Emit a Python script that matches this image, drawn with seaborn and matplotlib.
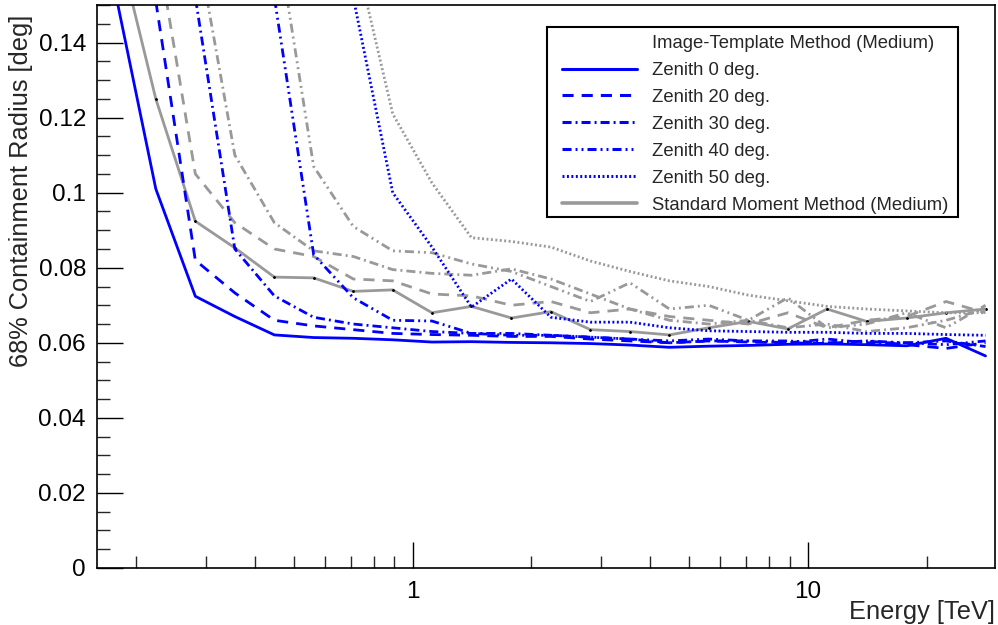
import numpy as np
import pandas as pd
import matplotlib
matplotlib.use("Agg")
import matplotlib.pyplot as plt
import seaborn as sns
from matplotlib.lines import Line2D
from matplotlib.patches import Rectangle
from matplotlib.ticker import MultipleLocator, LogLocator, FuncFormatter, NullFormatter

nan = np.nan

# Energy bin centres [TeV]
energy = [0.178, 0.224, 0.282, 0.355, 0.447, 0.562, 0.708, 0.891, 1.12, 1.41, 1.78,
          2.24, 2.82, 3.55, 4.47, 5.62, 7.08, 8.91, 11.2, 14.1, 17.8, 22.4, 28.2]

# Image-Template method (blue)
it_z0 = [0.152, 0.101, 0.0724, 0.067, 0.0621, 0.0614, 0.0612, 0.0608, 0.0602, 0.0603, 0.0601,
         0.0600, 0.0598, 0.0594, 0.0588, 0.0591, 0.0593, 0.0596, 0.0597, 0.0595, 0.0592, 0.0612, 0.0565]
it_z20 = [nan, 0.151, 0.082, 0.0733, 0.066, 0.0645, 0.0635, 0.0625, 0.0622, 0.0620, 0.0617,
          0.0617, 0.0610, 0.0605, 0.0600, 0.0605, 0.0602, 0.0600, 0.0598, 0.0605, 0.0595, 0.0585, 0.0600]
it_z30 = [nan, nan, 0.152, 0.085, 0.0725, 0.0668, 0.065, 0.064, 0.063, 0.0625, 0.0625,
          0.062, 0.0615, 0.061, 0.060, 0.0605, 0.0605, 0.060, 0.061, 0.060, 0.060, 0.0605, 0.059]
it_z40 = [nan, nan, nan, nan, 0.152, 0.0835, 0.072, 0.066, 0.0658, 0.0625, 0.062,
          0.062, 0.0615, 0.061, 0.0605, 0.061, 0.0605, 0.0605, 0.060, 0.0605, 0.060, 0.0595, 0.0605]
it_z50 = [nan, nan, nan, nan, nan, nan, 0.152, 0.100, 0.0855, 0.0695, 0.077,
          0.0668, 0.0655, 0.0655, 0.064, 0.0632, 0.063, 0.0628, 0.0628, 0.0625, 0.0625, 0.0622, 0.062]

# Standard moment method (gray)
sm_z0 = [0.168, 0.125, 0.0924, 0.0853, 0.0775, 0.0773, 0.0737, 0.0741, 0.068, 0.0697, 0.0666,
         0.0683, 0.0635, 0.063, 0.0621, 0.064, 0.0657, 0.0637, 0.069, 0.0657, 0.0666, 0.068, 0.069]
sm_z20 = [nan, 0.168, 0.105, 0.092, 0.085, 0.083, 0.077, 0.0765, 0.073, 0.0725, 0.070,
          0.071, 0.068, 0.069, 0.067, 0.066, 0.065, 0.068, 0.064, 0.066, 0.067, 0.071, 0.068]
sm_z30 = [nan, nan, 0.169, 0.11, 0.092, 0.0845, 0.083, 0.0795, 0.0785, 0.078, 0.0797,
          0.077, 0.073, 0.069, 0.066, 0.065, 0.066, 0.064, 0.065, 0.063, 0.064, 0.066, 0.069]
sm_z40 = [nan, nan, nan, nan, 0.173, 0.107, 0.091, 0.0845, 0.084, 0.081, 0.079,
          0.075, 0.071, 0.076, 0.069, 0.070, 0.066, 0.072, 0.064, 0.065, 0.068, 0.064, 0.070]
sm_z50 = [nan, nan, nan, nan, nan, nan, 0.166, 0.121, 0.1026, 0.088, 0.087,
          0.0855, 0.0818, 0.079, 0.0765, 0.075, 0.0727, 0.0712, 0.0697, 0.069, 0.0685, 0.068, 0.068]

legend_header = "Image-Template Method (Medium)"
it_labels = ["Zenith 0 deg.", "Zenith 20 deg.", "Zenith 30 deg.", "Zenith 40 deg.", "Zenith 50 deg."]
sm_label = "Standard Moment Method (Medium)"

sns.set_style("white")
plt.rcParams["font.family"] = ["Liberation Sans", "DejaVu Sans"]
plt.rcParams["lines.scale_dashes"] = False

W, H = 998, 625
fig = plt.figure(figsize=(W / 100, H / 100), dpi=100)
ax = fig.add_axes([97 / W, (H - 568) / H, 898 / W, 563 / H])

BLUE = "#0000ff"
GRAY = "#999999"
styles = ["-", (0, (8, 5.8)), (0, (6.5, 2.9, 1.4, 2.9)),
          (0, (6.5, 2.9, 1.4, 2.9, 1.4, 2.9)), (0, (1.4, 1.8))]

# gray (standard moment) first, blue on top
sm_series = [sm_z0, sm_z20, sm_z30, sm_z40, sm_z50]
for i, vals in enumerate(sm_series):
    df = pd.DataFrame({"E": energy, "r": vals}).dropna()
    kw = dict(marker=".", markersize=2.5, markerfacecolor="black", markeredgecolor="black") if i == 0 else {}
    sns.lineplot(data=df, x="E", y="r", ax=ax, color=GRAY, linewidth=2.0,
                 linestyle=styles[i], estimator=None, sort=False, **kw)

it_series = [it_z0, it_z20, it_z30, it_z40, it_z50]
handles = [Line2D([], [], color="none")]
for i, vals in enumerate(it_series):
    df = pd.DataFrame({"E": energy, "r": vals}).dropna()
    sns.lineplot(data=df, x="E", y="r", ax=ax, color=BLUE, linewidth=2.0,
                 linestyle=styles[i], estimator=None, sort=False)
    handles.append(Line2D([], [], color=BLUE, linewidth=2.2, linestyle=styles[i]))
handles.append(Line2D([], [], color=GRAY, linewidth=2.6, linestyle="-"))
labels = [legend_header] + it_labels + [sm_label]

ax.set_xscale("log")
ax.set_xlim(0.159, 29.8)
ax.set_ylim(0, 0.15)

ax.yaxis.set_major_locator(MultipleLocator(0.02))
ax.yaxis.set_minor_locator(MultipleLocator(0.005))
ax.yaxis.set_major_formatter(FuncFormatter(lambda v, p: "%g" % round(v, 4)))
ax.xaxis.set_major_locator(LogLocator(base=10))
ax.xaxis.set_minor_locator(LogLocator(base=10, subs=np.arange(2, 10)))
ax.xaxis.set_major_formatter(FuncFormatter(lambda v, p: "%g" % v))
ax.xaxis.set_minor_formatter(NullFormatter())

ax.tick_params(which="major", direction="in", length=19, width=1.0, labelsize=17.5,
               colors="black", pad=8, top=False, right=False, bottom=True, left=True)
ax.tick_params(which="minor", direction="in", length=9, width=1.0,
               top=False, right=False, bottom=True, left=True)
ax.tick_params(axis="x", which="major", pad=9)
for s in ax.spines.values():
    s.set_visible(True)
    s.set_color("black")
    s.set_linewidth(1.2)

ax.set_xlabel("Energy [TeV]", fontsize=18.3, loc="right")
ax.xaxis.set_label_coords(1.0, -0.057)
ax.set_ylabel("68% Containment Radius [deg]", fontsize=18.3, loc="top")
ax.yaxis.set_label_coords(-0.071, 0.982)

leg = ax.legend(handles, labels, loc="upper left", frameon=False, fontsize=13.3,
                handlelength=4.05, handletextpad=0.8, labelspacing=0.54, borderpad=0,
                borderaxespad=0, bbox_to_anchor=(562 / W, 1 - 35 / H),
                bbox_transform=fig.transFigure)
fig.patches.append(Rectangle((547 / W, 1 - 217 / H), 411 / W, 190 / H, transform=fig.transFigure,
                             fill=False, edgecolor="black", linewidth=1.5, zorder=10))

fig.savefig("out.png", dpi=100)
